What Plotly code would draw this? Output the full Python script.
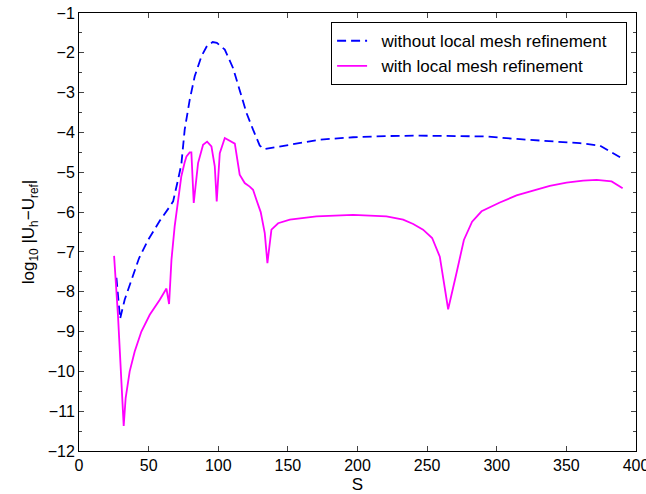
import plotly.graph_objects as go

# Without local mesh refinement (blue dashed)
s_without = [26.9, 29.5, 32.8, 38.8, 43.1, 49.6, 58.0, 65.2, 67.6, 71.1, 73.5, 75.9, 79.5, 83.1,
             87.9, 92.0, 96.0, 99.0, 104.7, 110.6, 115.4, 120.3, 125.0, 129.8, 133.0, 158.5,
             172.9, 196.8, 220.0, 244.8, 270.0, 292.6, 316.6, 340.5, 359.7, 374.0, 381.2, 390.8]
err_without = [-7.65, -8.68, -8.2, -7.62, -7.16, -6.70, -6.22, -5.86, -5.73, -5.19, -4.8, -3.93,
               -3.18, -2.59, -2.09, -1.82, -1.73, -1.75, -1.92, -2.38, -2.93, -3.51, -3.93, -4.33,
               -4.42, -4.27, -4.18, -4.12, -4.09, -4.08, -4.09, -4.10, -4.17, -4.23, -4.27, -4.33,
               -4.48, -4.67]

# With local mesh refinement (magenta solid)
s_with = [25.2, 28.0, 32.1, 33.5, 36.4, 40.0, 44.8, 50.8, 58.0, 62.8, 64.7, 66.4, 68.7, 71.8,
          73.5, 75.9, 77.2, 79.5, 80.7, 82.4, 85.5, 89.1, 92.0, 95.1, 97.5, 98.9, 101.1, 104.7,
          111.9, 115.4, 119.0, 122.6, 125.0, 127.4, 130.5, 133.4, 135.3, 138.2, 143.0, 151.4,
          170.5, 196.8, 220.8, 232.8, 240.0, 247.1, 253.6, 259.1, 265.1, 271.1, 276.4, 282.3,
          289.1, 302.2, 314.2, 326.1, 338.1, 350.1, 362.0, 371.7, 382.5, 390.4]
err_with = [-7.10, -8.6, -11.37, -10.67, -10.0, -9.5, -9.0, -8.58, -8.2, -7.92, -8.31, -7.2,
            -6.36, -5.52, -5.1, -4.75, -4.60, -4.50, -4.50, -5.77, -4.77, -4.31, -4.23, -4.35,
            -4.85, -5.73, -4.52, -4.14, -4.28, -5.06, -5.27, -5.36, -5.44, -5.69, -6.0, -6.53,
            -7.28, -6.44, -6.28, -6.19, -6.11, -6.07, -6.11, -6.19, -6.30, -6.44, -6.65, -7.12,
            -8.44, -7.53, -6.70, -6.24, -5.98, -5.76, -5.58, -5.46, -5.34, -5.26, -5.21, -5.19,
            -5.23, -5.40]

x_ticks = [0, 50, 100, 150, 200, 250, 300, 350, 400]
y_ticks = [-12, -11, -10, -9, -8, -7, -6, -5, -4, -3, -2, -1]

font = "Liberation Sans, Arial, Helvetica, sans-serif"
pad_l = "\u00a0\u00a0"
pad_r = "\u00a0\u00a0\u00a0"

fig = go.Figure()
fig.add_trace(go.Scatter(x=s_without, y=err_without, mode="lines",
                         name=pad_l + "without local mesh refinement" + pad_r,
                         line=dict(color="#0000FF", width=1.8, dash="9px,5px")))
fig.add_trace(go.Scatter(x=s_with, y=err_with, mode="lines",
                         name=pad_l + "with local mesh refinement" + pad_r,
                         line=dict(color="#FF00FF", width=1.8)))

fig.update_layout(
    width=646, height=494,
    margin=dict(l=79, r=10, t=13, b=43, autoexpand=False),
    paper_bgcolor="white", plot_bgcolor="white",
    font=dict(family=font, size=16, color="black"),
    showlegend=True,
    legend=dict(x=0.984, y=0.979, xanchor="right", yanchor="top",
                bgcolor="white", bordercolor="black", borderwidth=1,
                font=dict(size=17), tracegroupgap=0),
    xaxis=dict(range=[0, 400], tickvals=x_ticks, ticks="inside", ticklen=5,
               showline=True, linecolor="black", linewidth=1, mirror="ticks",
               showgrid=False, zeroline=False, automargin=False,
               ticklabeloverflow="allow", tickfont=dict(size=16),
               title=dict(text="S", standoff=9, font=dict(size=17))),
    yaxis=dict(range=[-12, -1], tickvals=y_ticks, ticks="inside", ticklen=5,
               showline=True, linecolor="black", linewidth=1, mirror="ticks",
               showgrid=False, zeroline=False, automargin=False,
               ticklabeloverflow="allow", tickfont=dict(size=16),
               minor=dict(dtick=0.5, ticks="inside", ticklen=3, showgrid=False),
               title=dict(text="log<sub>10</sub> |U<sub>h</sub>−U<sub>ref</sub>|", standoff=8,
                          font=dict(size=17))),
)

fig.write_html("out.html", config={"displayModeBar": False},
               post_script="document.body.style.margin='0';")
